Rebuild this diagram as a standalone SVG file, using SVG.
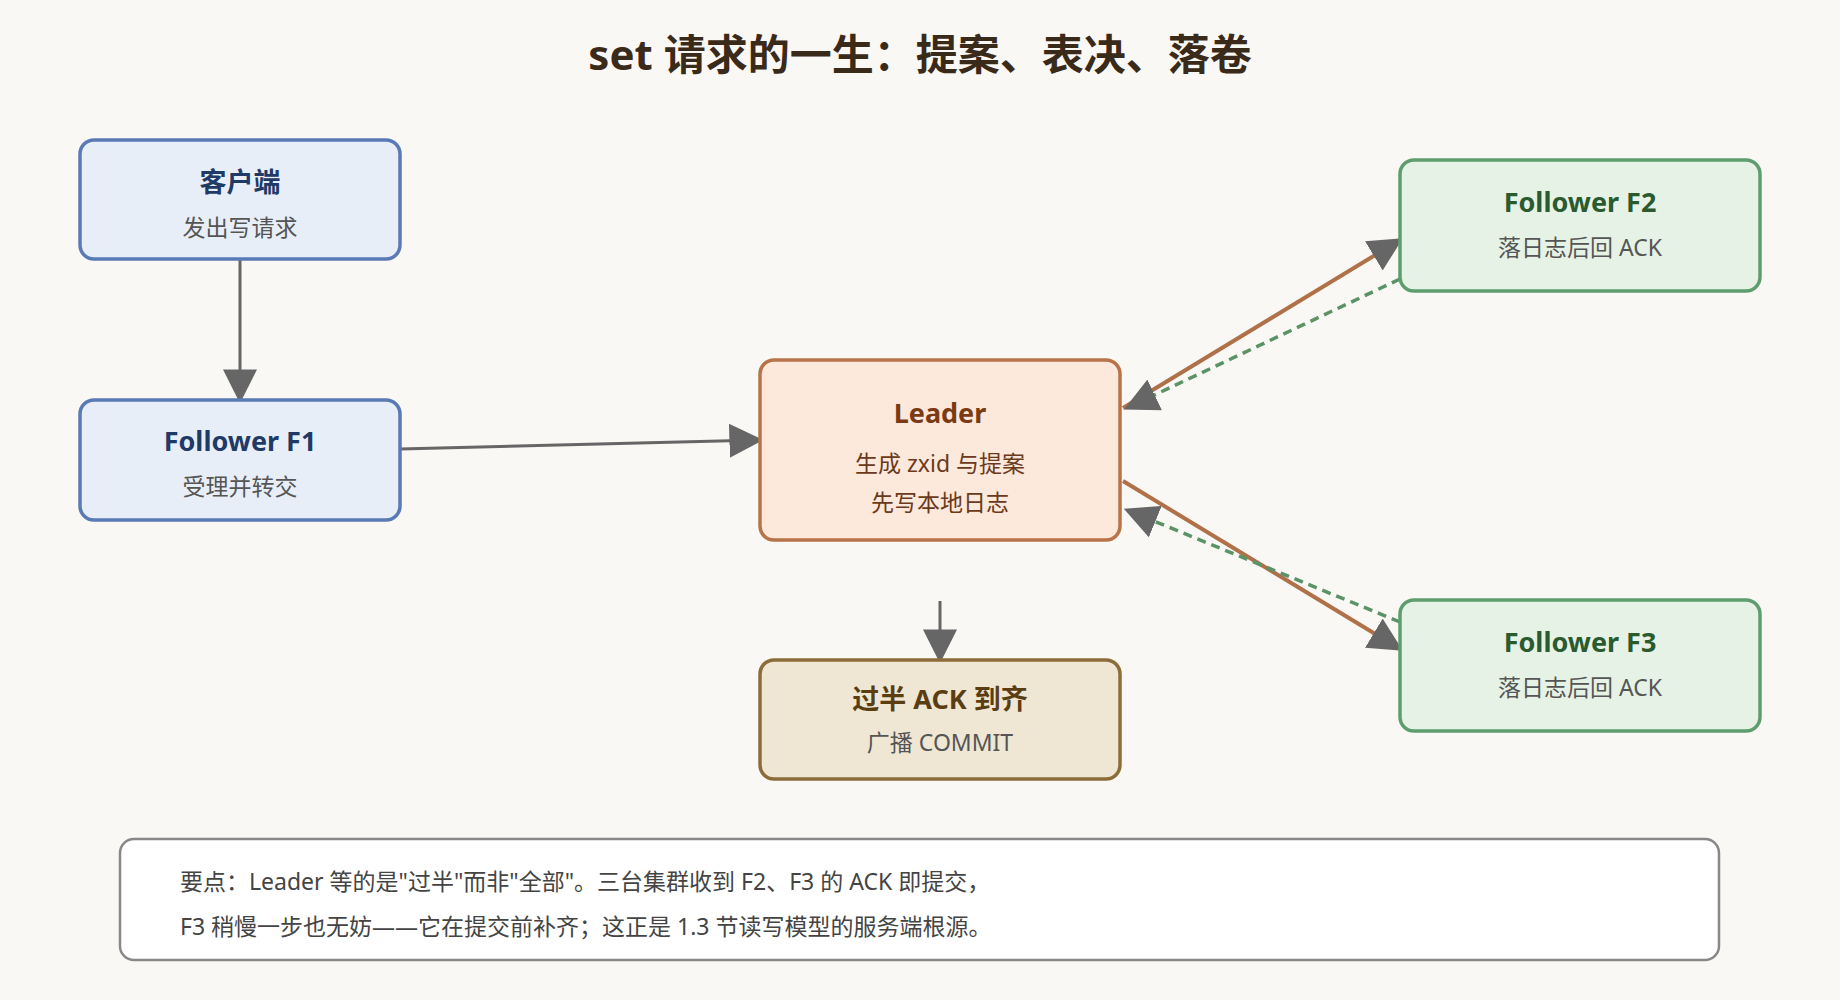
<svg xmlns="http://www.w3.org/2000/svg" width="1840" height="1000" viewBox="0 0 1840 1000">
<defs>
<style>
text{font-family:"Noto Sans","Noto Sans CJK SC",sans-serif;text-anchor:middle}
.t{font-size:27px;font-weight:bold}
.s{font-size:23px}
.box{stroke-width:3.5}
</style>
<marker id="ah" viewBox="0 0 10 10" refX="9" refY="5" markerWidth="10" markerHeight="10" markerUnits="userSpaceOnUse" orient="auto">
<path d="M0,0 L10,5 L0,10 z" fill="#666"/>
</marker>
<marker id="a" viewBox="0 0 10 10" refX="9" refY="5" markerWidth="34" markerHeight="34" markerUnits="userSpaceOnUse" orient="auto">
<path d="M0,0 L10,5 L0,10 z" fill="#666"/>
</marker>
</defs>
<rect width="1840" height="1000" fill="#faf8f4"/>
<text x="920" y="70" font-size="42" font-weight="bold" fill="#3a2a1a">set 请求的一生：提案、表决、落卷</text>
<g id="connectors" fill="none">
<line x1="240" y1="259" x2="240" y2="400" stroke="#666" stroke-width="3" marker-end="url(#a)"/>
<line x1="400" y1="449" x2="760" y2="440" stroke="#666" stroke-width="3" marker-end="url(#a)"/>
<line x1="1123" y1="408" x2="1400" y2="240" stroke="#b07048" stroke-width="4" marker-end="url(#a)"/>
<line x1="1400" y1="279" x2="1127" y2="408" stroke="#5a9466" stroke-width="3.5" stroke-dasharray="9,6" marker-end="url(#a)"/>
<line x1="1123" y1="481" x2="1400" y2="649" stroke="#b07048" stroke-width="4" marker-end="url(#a)"/>
<line x1="1400" y1="622" x2="1127" y2="510" stroke="#5a9466" stroke-width="3.5" stroke-dasharray="9,6" marker-end="url(#a)"/>
<line x1="940" y1="601" x2="940" y2="660" stroke="#666" stroke-width="3" marker-end="url(#a)"/>
</g>
<g id="client"><rect class="box" x="80" y="140" width="320" height="119" rx="14" fill="#e8eef8" stroke="#5a7ab5"/>
<text class="t" x="240" y="192" fill="#1f3a66">客户端</text><text class="s" x="240" y="236" fill="#555">发出写请求</text></g>
<g id="f1"><rect class="box" x="80" y="400" width="320" height="120" rx="14" fill="#e8eef8" stroke="#5a7ab5"/>
<text class="t" x="240" y="451" fill="#1f3a66">Follower F1</text><text class="s" x="240" y="495" fill="#555">受理并转交</text></g>
<g id="leader"><rect class="box" x="760" y="360" width="360" height="180" rx="14" fill="#fde8dc" stroke="#b87448"/>
<text class="t" x="940" y="423" fill="#7a3a14">Leader</text><text class="s" x="940" y="472" fill="#6a3a1a">生成 zxid 与提案</text><text class="s" x="940" y="511" fill="#6a3a1a">先写本地日志</text></g>
<g id="commit"><rect class="box" x="760" y="660" width="360" height="119" rx="14" fill="#efe6d4" stroke="#8c6d3a"/>
<text class="t" x="940" y="709" fill="#5a3e12">过半 ACK 到齐</text><text class="s" x="940" y="751" fill="#555">广播 COMMIT</text></g>
<g id="f2"><rect class="box" x="1400" y="160" width="360" height="131" rx="14" fill="#e5f2e5" stroke="#5e9e6e"/>
<text class="t" x="1580" y="212" fill="#2a5a2e">Follower F2</text><text class="s" x="1580" y="256" fill="#555">落日志后回 ACK</text></g>
<g id="f3"><rect class="box" x="1400" y="600" width="360" height="131" rx="14" fill="#e5f2e5" stroke="#5e9e6e"/>
<text class="t" x="1580" y="652" fill="#2a5a2e">Follower F3</text><text class="s" x="1580" y="696" fill="#555">落日志后回 ACK</text></g>
<g id="note"><rect x="120" y="839" width="1599" height="121" rx="14" fill="#fff" stroke="#888" stroke-width="2.5"/>
<text class="s" x="180" y="890" style="text-anchor:start" fill="#444">要点：Leader 等的是"过半"而非"全部"。三台集群收到 F2、F3 的 ACK 即提交，</text>
<text class="s" x="180" y="935" style="text-anchor:start" fill="#444">F3 稍慢一步也无妨——它在提交前补齐；这正是 1.3 节读写模型的服务端根源。</text></g>
</svg>
